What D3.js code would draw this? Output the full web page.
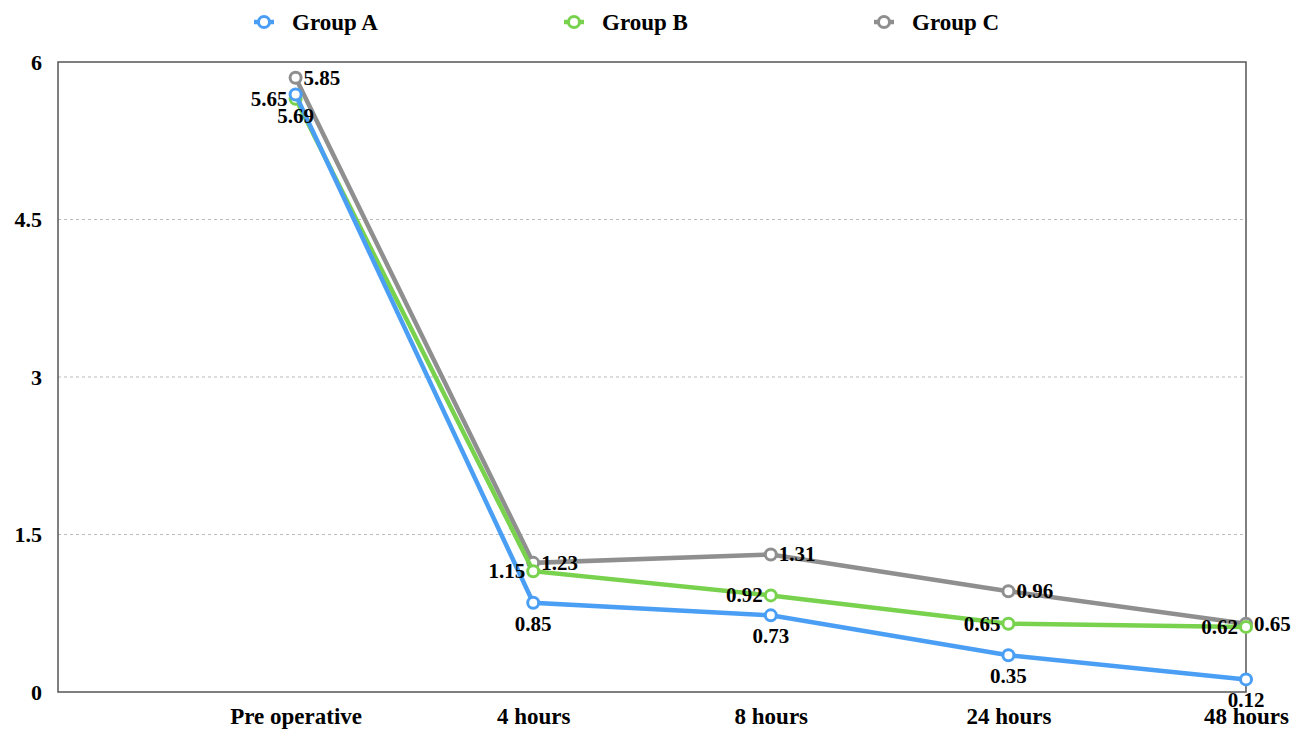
<!DOCTYPE html>
<html>
<head>
<meta charset="utf-8">
<script src="https://cdn.jsdelivr.net/npm/d3@7"></script>
<style>
  body { margin: 0; background: #fff; }
  text { font-family: "Liberation Serif", "Times New Roman", serif; font-weight: bold; }
</style>
</head>
<body>
<div id="chart"></div>
<script>
var categories = ["Pre operative", "4 hours", "8 hours", "24 hours", "48 hours"];
var groupNames = ["Group A", "Group B", "Group C"];
var groupA = [5.69, 0.85, 0.73, 0.35, 0.12];
var groupB = [5.65, 1.15, 0.92, 0.65, 0.62];
var groupC = [5.85, 1.23, 1.31, 0.96, 0.65];
var yTicks = [0, 1.5, 3, 4.5, 6];

var colors = ["#4a9ff5", "#78d24e", "#8f8f8f"];
var labelPos = ["below", "left", "right"];
var series = [groupA, groupB, groupC];

var W = 1293, H = 730;
var margin = {top: 62, right: 47, bottom: 38, left: 58};
var width = W - margin.left - margin.right,
    height = H - margin.top - margin.bottom;

var svg = d3.select("#chart").append("svg")
  .attr("width", W).attr("height", H);
var g = svg.append("g")
  .attr("transform", "translate(" + margin.left + "," + margin.top + ")");

// first category sits one step in from the left edge
var x = d3.scaleLinear().domain([-1, categories.length - 1]).range([0, width]);
var y = d3.scaleLinear().domain([0, 6]).range([height, 0]);

// grid
g.selectAll(".grid").data(yTicks.filter(function(d){ return d > 0 && d < 6; }))
  .join("line")
  .attr("x1", 0).attr("x2", width)
  .attr("y1", function(d){ return y(d); }).attr("y2", function(d){ return y(d); })
  .attr("stroke", "#bbb").attr("stroke-dasharray", "3,3").attr("stroke-width", 1);

// frame
g.append("rect").attr("x", 0).attr("y", 0).attr("width", width).attr("height", height)
  .attr("fill", "none").attr("stroke", "#555").attr("stroke-width", 1.5);

// y axis
var yAxis = g.append("g").call(d3.axisLeft(y).tickValues(yTicks).tickSize(0).tickPadding(16)
  .tickFormat(function(d){ return d; }));
yAxis.select(".domain").remove();
yAxis.selectAll("text").attr("font-size", 22).attr("fill", "#000")
  .style("font-family", "'Liberation Serif', serif").style("font-weight", "bold");

// x axis
var xAxis = g.append("g").attr("transform", "translate(0," + height + ")")
  .call(d3.axisBottom(x).tickValues(d3.range(categories.length)).tickSize(0).tickPadding(16)
  .tickFormat(function(d){ return categories[d]; }));
xAxis.select(".domain").remove();
xAxis.selectAll("text").attr("font-size", 23).attr("fill", "#000")
  .style("font-family", "'Liberation Serif', serif").style("font-weight", "bold");

var line = d3.line()
  .x(function(d, i){ return x(i); })
  .y(function(d){ return y(d); });

// draw C first, A on top
for (var s = series.length - 1; s >= 0; s--) {
  var sg = g.append("g");
  sg.append("path").datum(series[s])
    .attr("d", line).attr("fill", "none")
    .attr("stroke", colors[s]).attr("stroke-width", 4.5);
  sg.selectAll("circle").data(series[s]).join("circle")
    .attr("cx", function(d, i){ return x(i); })
    .attr("cy", function(d){ return y(d); })
    .attr("r", 5.5).attr("fill", "#fff")
    .attr("stroke", colors[s]).attr("stroke-width", 3);
}

// value labels
series.forEach(function(vals, s) {
  g.selectAll(".lab" + s).data(vals).join("text")
    .attr("x", function(d, i){
      if (labelPos[s] == "left") return x(i) - 8;
      if (labelPos[s] == "right") return x(i) + 8;
      return x(i);
    })
    .attr("y", function(d){
      if (labelPos[s] == "below") return y(d) + 28;
      return y(d) + 7;
    })
    .attr("text-anchor", labelPos[s] == "left" ? "end" : (labelPos[s] == "right" ? "start" : "middle"))
    .attr("font-size", 21).attr("fill", "#000")
    .text(function(d){ return d.toFixed(2); });
});

// legend
var legendX = [264, 574, 884];
var leg = svg.selectAll(".leg").data(groupNames).join("g")
  .attr("transform", function(d, i){ return "translate(" + legendX[i] + ",22)"; });
leg.append("line").attr("x1", -10).attr("x2", 10)
  .attr("stroke", function(d, i){ return colors[i]; }).attr("stroke-width", 4.5);
leg.append("circle").attr("r", 5.5).attr("fill", "#fff")
  .attr("stroke", function(d, i){ return colors[i]; }).attr("stroke-width", 3);
leg.append("text").attr("x", 28).attr("y", 8).attr("font-size", 23).attr("fill", "#000")
  .text(function(d){ return d; });
</script>
</body>
</html>
